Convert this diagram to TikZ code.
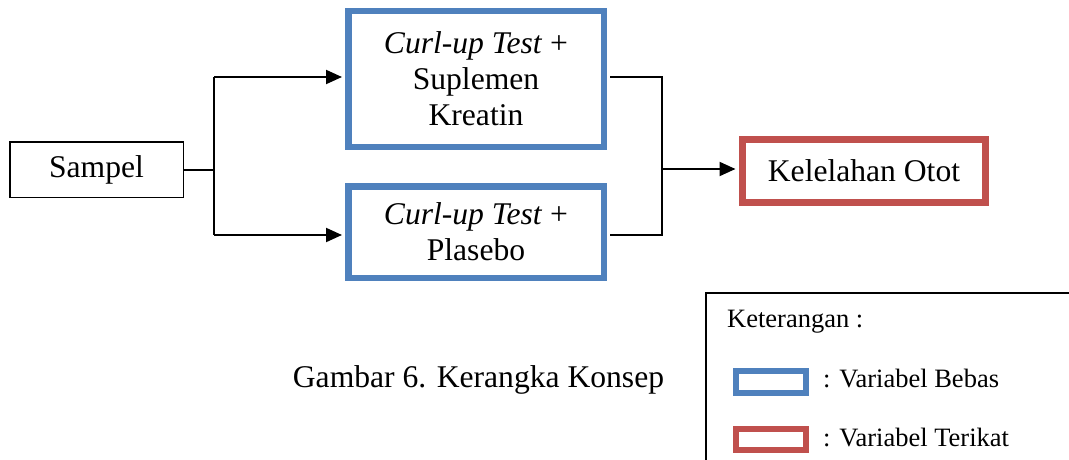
\documentclass[tikz,border=0pt]{standalone}
\usepackage{fontspec}
\setmainfont{Liberation Serif}
\newfontfamily\timesface{Liberation Serif}
\usetikzlibrary{arrows.meta}

\definecolor{bebasblue}{RGB}{79,129,189}
\definecolor{terikatred}{RGB}{192,80,77}

\begin{document}
\begin{tikzpicture}
[x=1pt,y=-1pt,%
  every node/.style={shape=rectangle,inner sep=0pt,align=center,
    font=\timesface\fontsize{31.6}{36}\selectfont},%
  plainbox/.style={draw=black,line width=1.5pt},%
  varbebas/.style={draw=bebasblue,line width=6.5pt},%
  varterikat/.style={draw=terikatred,line width=7pt},%
  link/.style={line width=2pt},%
  joinlink/.style={line width=1.6pt},%
  arrowlink/.style={link,-{Triangle[length=16pt,width=14pt]}},%
  legendtext/.style={anchor=west,font=\timesface\fontsize{26.5}{30}\selectfont}]
\useasboundingbox (0,0) rectangle (1069,460);
\fill[white] (0,0) rectangle (1069,460);
% boxes of the scheme
\node[plainbox,minimum width=173.5pt,minimum height=55.5pt] (sampel) at (96.5,169.5) {Sampel};
\node[varbebas,minimum width=255.5pt,minimum height=135.5pt] (kreatin) at (476,79)
  {\textit{Curl-up Test} +\\Suplemen\\Kreatin};
\node[varbebas,minimum width=255.5pt,minimum height=91.5pt] (plasebo) at (476,232)
  {\textit{Curl-up Test} +\\Plasebo};
\node[varterikat,minimum width=243pt,minimum height=63pt] (otot) at (864,171) {Kelelahan Otot};
% split and join points
\coordinate (split) at (214,169.5);
\coordinate (splitup) at (214,77);
\coordinate (splitdown) at (214,235);
\coordinate (joinup) at (662,77);
\coordinate (joindown) at (662,235);
\coordinate (join) at (662,169);
\draw[link] (sampel.east) -- (split);
\draw[link] (splitup) -- (splitdown);
\draw[arrowlink,shorten >=3pt] (splitup) -- (splitup -| kreatin.west);
\draw[arrowlink,shorten >=3pt] (splitdown) -- (splitdown -| plasebo.west);
\draw[joinlink] (joinup -| kreatin.east) ++(3.25,0) -- (joinup) -- (joindown) -- ++(-51.75,0);
\draw[arrowlink,shorten >=3.5pt] (join) -- (join -| otot.west);
% caption
\node (caption) at (478.5,380) {Gambar 6. Kerangka Konsep};
% legend
\begin{scope}
\clip (0,0) rectangle (1069,460);
\draw[plainbox] (706,293) rectangle (1090,480);
\end{scope}
\node[legendtext] (keterangan) at (727,322) {Keterangan :};
\node[varbebas,line width=6pt,minimum width=70pt,minimum height=22pt] (legbebas) at (771,382) {};
\node[varterikat,line width=6pt,minimum width=70pt,minimum height=21pt] (legterikat) at (771,439.5) {};
\node[legendtext] (txtbebas) at (823,379) {: Variabel Bebas};
\node[legendtext] (txtterikat) at (823,438) {: Variabel Terikat};
\end{tikzpicture}
\end{document}
